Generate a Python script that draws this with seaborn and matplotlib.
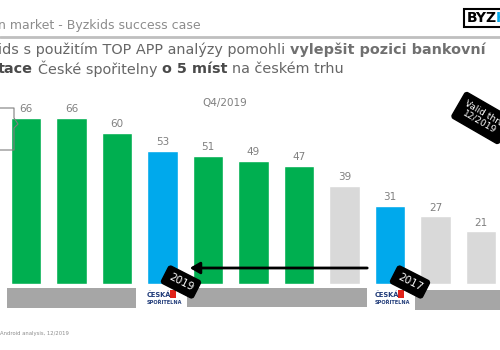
import matplotlib
matplotlib.use("Agg")
import matplotlib.pyplot as plt
import seaborn as sns
from matplotlib.patches import Rectangle
from matplotlib.lines import Line2D

# ---- data ----
categories = ["Banka A", "Banka B", "Banka C", "Česká spořitelna (2019)", "Banka D",
              "Banka E", "Banka F", "Banka G", "Česká spořitelna (2017)", "Banka H", "Banka I"]
values = [66, 66, 60, 53, 51, 49, 47, 39, 31, 27, 21]
bar_colors = ["#00AF50", "#00AF50", "#00AF50", "#00A9EC", "#00AF50", "#00AF50",
              "#00AF50", "#D9D9D9", "#00A9EC", "#D9D9D9", "#D9D9D9"]
header_text = "n market - Byzkids success case"
title_line1 = [("ids s použitím TOP APP analýzy pomohli ", "normal"),
               ("vylepšit pozici bankovní", "bold")]
title_line2 = [("tace", "bold"), (" České spořitelny ", "normal"),
               ("o 5 míst", "bold"), (" na českém trhu", "normal")]
period_label = "Q4/2019"
valid_label = "Valid thru\n12/2019"
year_new, year_old = "2019", "2017"
footer_text = "Android analysis, 12/2019"

sns.set_theme(style="white")
plt.rcParams["font.family"] = ["DejaVu Sans"]

W, H = 500, 350
fig = plt.figure(figsize=(5, 3.5), dpi=100)
fig.patch.set_facecolor("white")


def fx(x):
    return x / W


def fy(y):
    return 1 - y / H


# ---- bars ----
ax = fig.add_axes([0, fy(284), 1, 204 / H])
pal = dict(zip(categories, bar_colors))
sns.barplot(x=categories, y=values, hue=categories, palette=pal, width=0.68,
            saturation=1, legend=False, ax=ax, order=categories, hue_order=categories)
ax.set_xlim(-0.571, 10.418)
ax.set_ylim(0, 81)
ax.axis("off")
for cont in ax.containers:
    ax.bar_label(cont, fmt="%g", padding=2.5, color="#808080", fontsize=7.5)

# ---- header ----
fig.text(fx(-2), fy(25), header_text, color="#8C8C8C", fontsize=9, va="center", ha="left")
fig.add_artist(Line2D([0, 1], [fy(37), fy(37)], color="#BFBFBF", lw=2))

# logo
fig.add_artist(Rectangle((fx(464), fy(27)), fx(40), 18 / H, facecolor="white",
                         edgecolor="black", lw=1.5))
fig.text(fx(467), fy(18), "BYZ", fontsize=10, fontweight="bold", color="black", va="center")
fig.text(fx(496), fy(18), "K", fontsize=10, fontweight="bold", color="#00A9EC", va="center")

# ---- title with mixed weights ----
renderer = fig.canvas.get_renderer()
title_size = 10.4


def text_w(s, weight):
    t = fig.text(0, 0, s, fontsize=title_size, fontweight=weight)
    w = t.get_window_extent(renderer=renderer).width
    t.remove()
    return w


space_w = text_w("a a", "normal") - text_w("aa", "normal")


def draw_line(pieces, y, bold_col):
    x = -2.0
    for s, weight in pieces:
        lead = len(s) - len(s.lstrip(" "))
        trail = len(s) - len(s.rstrip(" "))
        core = s.strip(" ")
        x += lead * space_w
        col = bold_col if weight != "normal" else "#666666"
        t = fig.text(fx(x), fy(y), core, fontsize=title_size, fontweight=weight,
                     color=col, va="center", ha="left")
        x += t.get_window_extent(renderer=renderer).width + trail * space_w


draw_line(title_line1, 50, "#707070")
draw_line(title_line2, 69, "#4A4A4A")

# period label
fig.text(fx(225), fy(103), period_label, color="#7F7F7F", fontsize=7.5, ha="center", va="center")

# valid-thru badge
fig.text(fx(482), fy(118), valid_label, color="white", fontsize=6.5, ha="center", va="center",
         rotation=-30, linespacing=1.1,
         bbox=dict(boxstyle="round,pad=0.6,rounding_size=0.3", fc="black", ec="black"))

# left callout shape
xs = [0, 14, 14, 18, 14, 14, 0]
ys = [108, 108, 118, 124, 128, 150, 150]
fig.add_artist(Line2D([fx(v) for v in xs], [fy(v) for v in ys], color="#7F7F7F", lw=0.8))

# grey redaction blocks under bars
for x0, x1, y0, y1 in [(7, 136, 288, 308), (187, 367, 288, 307), (415, 505, 290, 310)]:
    fig.add_artist(Rectangle((fx(x0), fy(y1)), fx(x1 - x0), (y1 - y0) / H,
                             facecolor="#A6A6A6", edgecolor="none"))

# Česká spořitelna logos
for lx in (147, 375):
    fig.text(fx(lx), fy(295), "ČESKÁ", fontsize=4.8, fontweight="bold", color="#1F3A78",
             va="center", ha="left")
    fig.add_artist(Rectangle((fx(lx + 23), fy(298)), fx(6), 8 / H, facecolor="#E2231A",
                             edgecolor="none"))
    fig.text(fx(lx), fy(303), "SPOŘITELNA", fontsize=3.6, fontweight="bold", color="#1F3A78",
             va="center", ha="left")

# arrow
fig.add_artist(matplotlib.patches.FancyArrowPatch(
    (fx(370), fy(268)), (fx(187), fy(268)), transform=fig.transFigure,
    arrowstyle="-|>,head_length=6,head_width=3.5", color="black", lw=2))

# year badges
for cx, lab in [(181, year_new), (410, year_old)]:
    fig.text(fx(cx), fy(282), lab, color="white", fontsize=7.5, ha="center", va="center",
             rotation=-27,
             bbox=dict(boxstyle="round,pad=0.45,rounding_size=0.25", fc="black", ec="black"))

# footer
fig.text(fx(0), fy(333), footer_text, color="#8C8C8C", fontsize=3.8, va="center", ha="left")

fig.savefig("out.png", dpi=100, facecolor="white")
